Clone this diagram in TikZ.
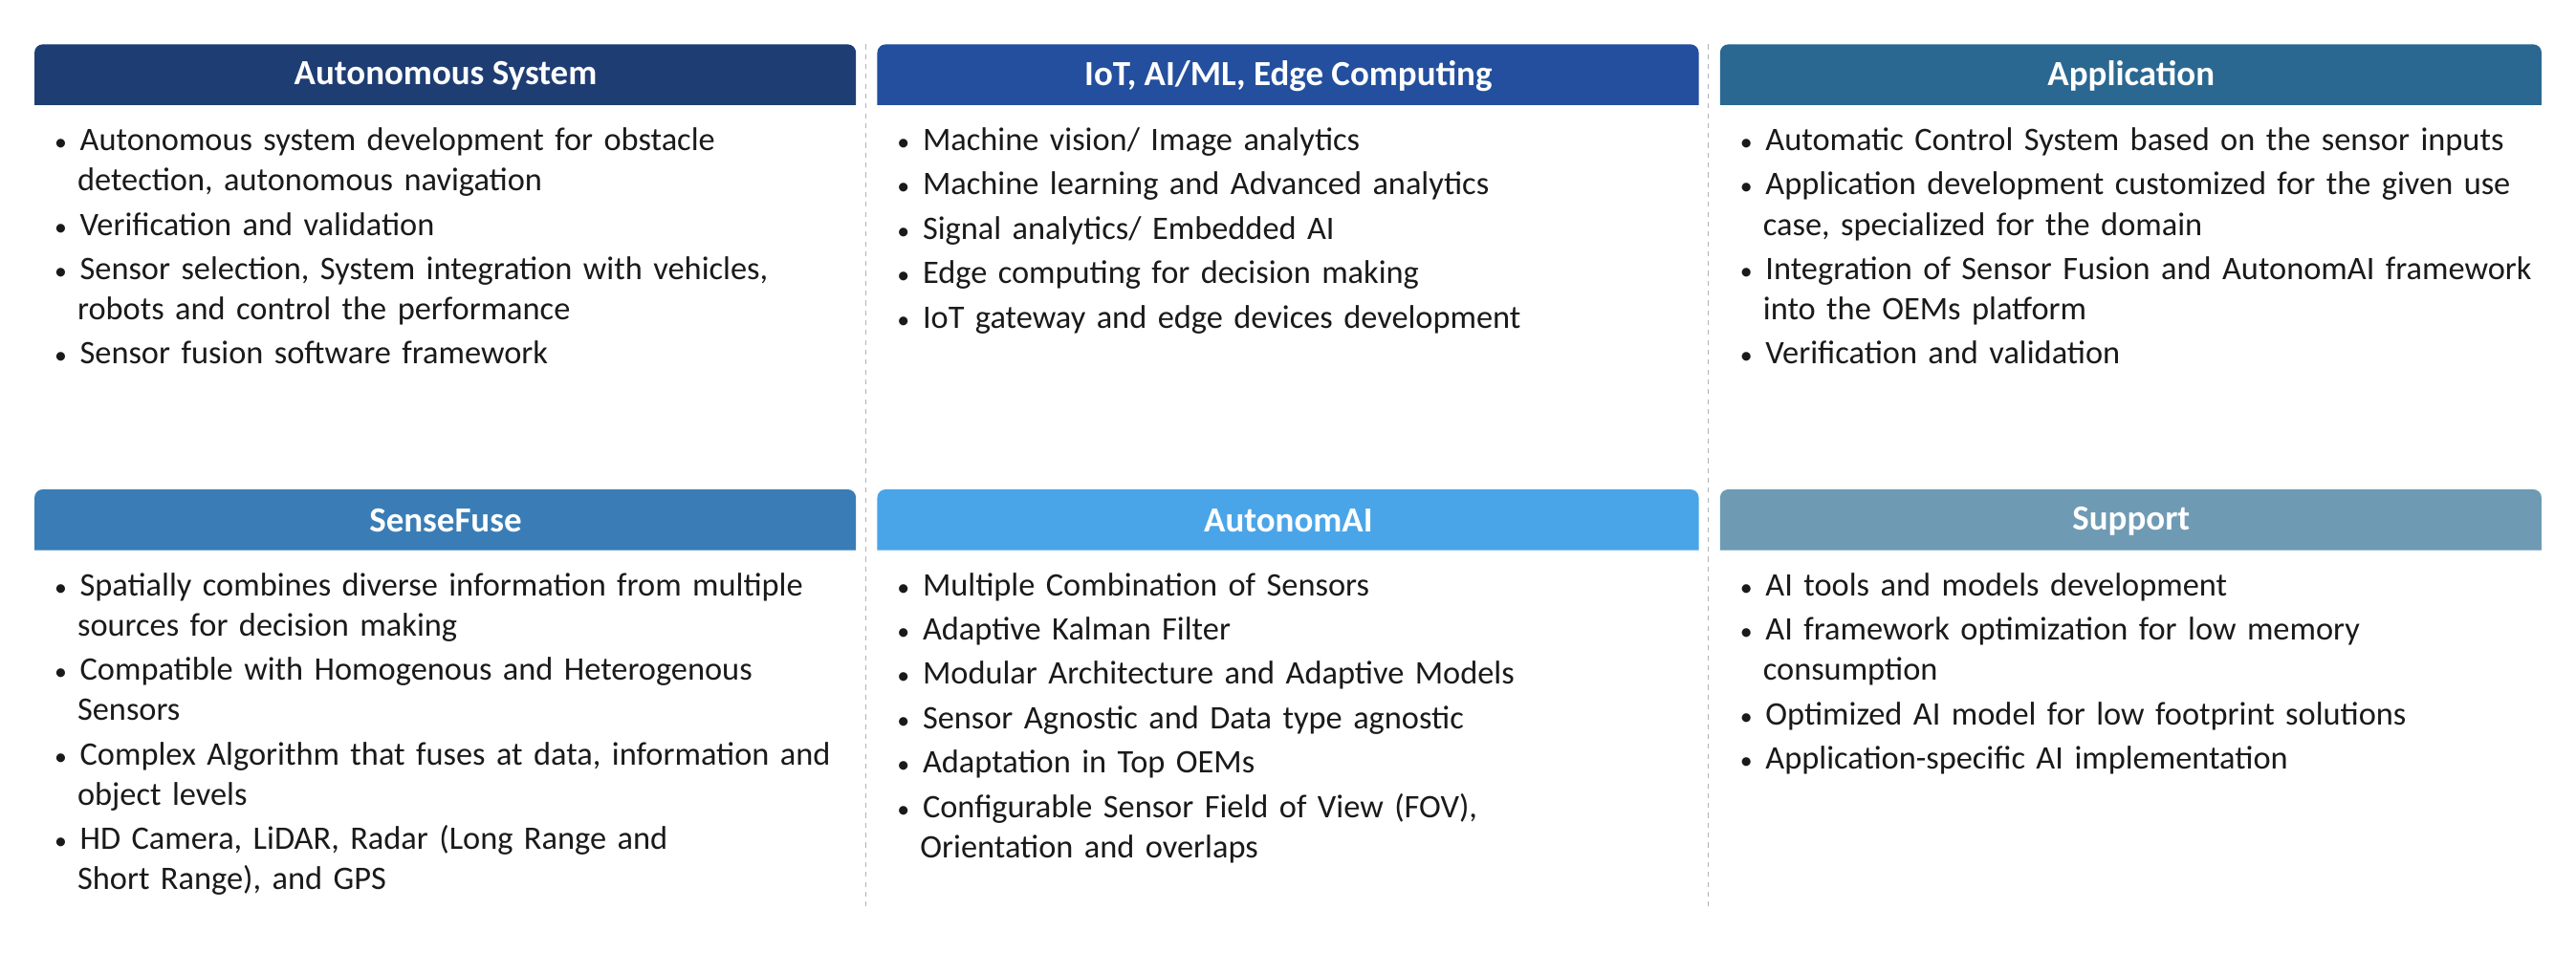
\documentclass[tikz,border=0pt]{standalone}
\usepackage{fontspec}
\setmainfont{Carlito}
\definecolor{hA}{HTML}{1E3D73}
\definecolor{hB}{HTML}{234F9E}
\definecolor{hC}{HTML}{2A6891}
\definecolor{hD}{HTML}{3A7DB6}
\definecolor{hE}{HTML}{4AA5E8}
\definecolor{hF}{HTML}{6E9AB4}
\definecolor{bodyc}{HTML}{1A1A1A}
\newenvironment{blist}{\list{\scalebox{0.75}{\textbullet}}{\leftmargin=19pt\labelsep=8pt\labelwidth=6pt\itemsep=2.5pt\parsep=0pt\topsep=0pt\partopsep=0pt}}{\endlist}
\begin{document}
\begin{tikzpicture}[x=1pt,y=-1pt,
  hdr/.style={minimum width=500pt,minimum height=38pt,text=white,font=\fontsize{21.5}{24}\selectfont\bfseries,inner sep=0pt,anchor=north west},
  body/.style={anchor=north west,text width=505pt,inner sep=0pt,font=\fontsize{20}{24.5}\selectfont,text=bodyc,align=left},
  sep/.style={draw=black!30,dashed,line width=0.6pt}]
\fill[white] (0,0) rectangle (1568,580);
\useasboundingbox (0,0) rectangle (1568,580);
\foreach \x/\y/\c/\n in {21/27/hA/a,534/27/hB/b,1047/27/hC/c,21/298/hD/d,534/298/hE/e,1047/298/hF/f}{
  \fill[\c,rounded corners=5pt] (\x,\y+18) |- (\x+250,\y) -| (\x+500,\y+18) [sharp corners] -- (\x+500,\y+37) -- (\x,\y+37) -- cycle;
}
\node[hdr] (ha) at (21,27) {Autonomous System};
\node[hdr] (hb) at (534,27) {IoT, AI/ML, Edge Computing};
\node[hdr] (hc) at (1047,27) {Application};
\node[hdr] (hd) at (21,298) {SenseFuse};
\node[hdr] (he) at (534,298) {AutonomAI};
\node[hdr] (hf) at (1047,298) {Support};
\coordinate (s1a) at (527,27); \coordinate (s1b) at (527,555);
\coordinate (s2a) at (1040,27); \coordinate (s2b) at (1040,555);
\draw[sep] (s1a) -- (s1b);
\draw[sep] (s2a) -- (s2b);
\node[body] (ba) at (28,67) {\begin{blist}
\item Autonomous system development for obstacle\\ detection, autonomous navigation
\item Verification and validation
\item Sensor selection, System integration with vehicles,\\ robots and control the performance
\item Sensor fusion software framework
\end{blist}};
\node[body] (bb) at (541,67) {\begin{blist}
\item Machine vision/ Image analytics
\item Machine learning and Advanced analytics
\item Signal analytics/ Embedded AI
\item Edge computing for decision making
\item IoT gateway and edge devices development
\end{blist}};
\node[body] (bc) at (1054,67) {\begin{blist}
\item Automatic Control System based on the sensor inputs
\item Application development customized for the given use\\ case, specialized for the domain
\item Integration of Sensor Fusion and AutonomAI framework\\ into the OEMs platform
\item Verification and validation
\end{blist}};
\node[body] (bd) at (28,338) {\begin{blist}
\item Spatially combines diverse information from multiple\\ sources for decision making
\item Compatible with Homogenous and Heterogenous\\ Sensors
\item Complex Algorithm that fuses at data, information and\\ object levels
\item HD Camera, LiDAR, Radar (Long Range and\\ Short Range), and GPS
\end{blist}};
\node[body] (be) at (541,338) {\begin{blist}
\item Multiple Combination of Sensors
\item Adaptive Kalman Filter
\item Modular Architecture and Adaptive Models
\item Sensor Agnostic and Data type agnostic
\item Adaptation in Top OEMs
\item Configurable Sensor Field of View (FOV),\\ Orientation and overlaps
\end{blist}};
\node[body] (bf) at (1054,338) {\begin{blist}
\item AI tools and models development
\item AI framework optimization for low memory\\ consumption
\item Optimized AI model for low footprint solutions
\item Application-specific AI implementation
\end{blist}};
\end{tikzpicture}
\end{document}
